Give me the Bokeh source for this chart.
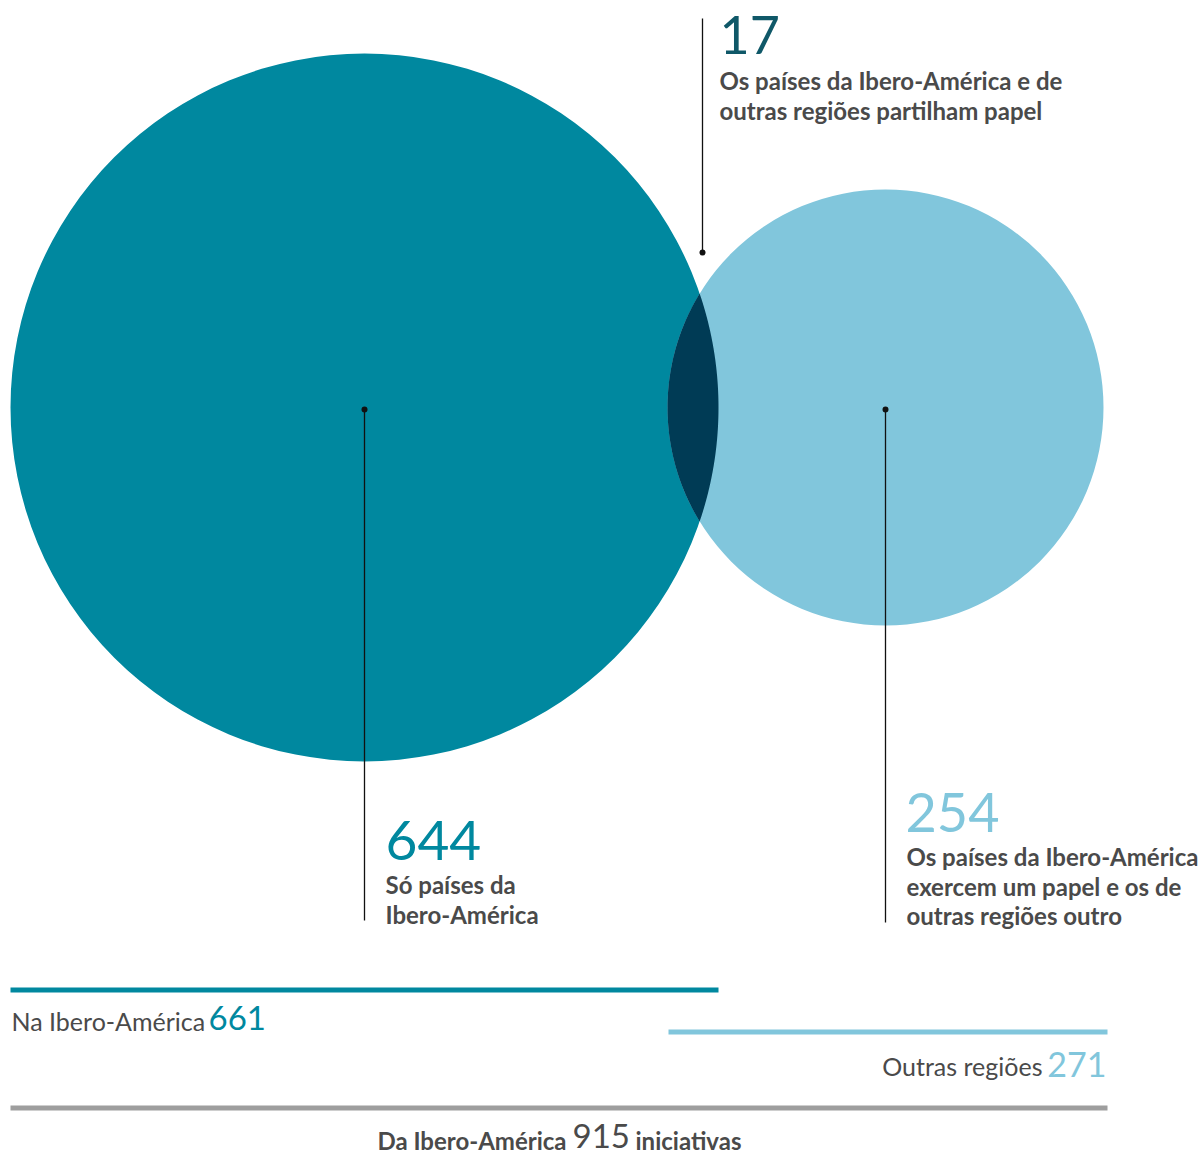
import numpy as np
from bokeh.plotting import figure
from bokeh.models import Range1d
from bokeh.core.properties import value
from bokeh.embed import file_html
from bokeh.resources import INLINE

# ---- data ----
only_ibero = 644
shared = 17
split_roles = 254
total_ibero = 661
total_other = 271
total_all = 915

label_shared = ["Os países da Ibero-América e de", "outras regiões partilham papel"]
label_only = ["Só países da", "Ibero-América"]
label_split = ["Os países da Ibero-América", "exercem um papel e os de", "outras regiões outro"]
bar_labels = ["Na Ibero-América", "Outras regiões", "Da Ibero-América", "iniciativas"]

# ---- colours / fonts ----
TEAL = "#00889f"
LIGHT = "#81c6dc"
DARK = "#003b55"
DARKTEAL = "#0f5868"
GREY_TXT = "#4a4a4a"
BAR_GREY = "#9e9e9e"
FONT = value("Lato")

W, H = 1203, 1155
p = figure(width=W, height=H, x_range=Range1d(0, W), y_range=Range1d(H, 0),
           output_backend="svg", toolbar_location=None, min_border=0,
           x_axis_location=None, y_axis_location=None)
p.grid.visible = False
p.outline_line_color = None
p.background_fill_color = "white"
p.border_fill_color = "white"

# ---- circles ----
cA, rA = (364.0, 407.0), 354.0
cB, rB = (885.0, 407.0), 218.0
p.circle(x=[cA[0]], y=[cA[1]], radius=rA, fill_color=TEAL, line_color=None)
p.circle(x=[cB[0]], y=[cB[1]], radius=rB, fill_color=LIGHT, line_color=None)

# lens (overlap)
d = cB[0] - cA[0]
a = (d**2 + rA**2 - rB**2) / (2 * d)
h = np.sqrt(rA**2 - a**2)
thA = np.arctan2(h, a)
thB = np.arctan2(h, d - a)
tA = np.linspace(-thA, thA, 120)
tB = np.linspace(np.pi - thB, np.pi + thB, 120)
xs = np.concatenate([cA[0] + rA * np.cos(tA), cB[0] + rB * np.cos(tB[::-1])])
ys = np.concatenate([cA[1] + rA * np.sin(tA), cB[1] + rB * np.sin(tB[::-1])])
p.patch(x=list(xs), y=list(ys), fill_color=DARK, line_color=None)

# ---- leader lines ----
p.segment(x0=[702, 364, 885], y0=[18, 409, 409], x1=[702, 364, 885], y1=[252, 920, 922],
          line_color="#111111", line_width=1.3)
p.scatter(x=[702, 364, 885], y=[252, 409, 409], size=6, fill_color="#111111", line_color=None)


def txt(x, y, s, size, color, bold=False, align="left"):
    # y is the visual baseline; compensate renderer's baseline offset
    off = 0.37 * size
    p.text(x=[x], y=[y - off], text=[s], text_font=FONT, text_font_size=f"{size}px",
           text_font_style="bold" if bold else "normal", text_color=color,
           text_baseline="alphabetic", text_align=align)


# ---- big numbers ----
txt(719, 54, str(shared), 52, DARKTEAL)
txt(385, 860, str(only_ibero), 55, TEAL)
txt(905, 832, str(split_roles), 54, LIGHT)

# ---- labels ----
def label(x, y0, lines, step=30):
    for i, s in enumerate(lines):
        txt(x, y0 + i * step, s, 24, GREY_TXT, bold=True)

label(719, 89, label_shared, 29.5)
label(385, 893, label_only, 30)
label(906, 865, label_split, 29.5)

# ---- bars ----
p.quad(left=[10], right=[718], top=[987], bottom=[992], fill_color=TEAL, line_color=None)
p.quad(left=[668], right=[1107], top=[1029], bottom=[1034], fill_color=LIGHT, line_color=None)
p.quad(left=[10], right=[1107], top=[1105], bottom=[1110], fill_color=BAR_GREY, line_color=None)

# bar texts
txt(11, 1030, bar_labels[0], 25, GREY_TXT)
txt(208, 1030, str(total_ibero), 33, TEAL)

txt(1042, 1075, bar_labels[1], 25, GREY_TXT, align="right")
txt(1106, 1077, str(total_other), 34, LIGHT, align="right")

txt(566, 1149, bar_labels[2], 24, GREY_TXT, bold=True, align="right")
txt(572, 1148, str(total_all), 33, GREY_TXT)
txt(635, 1149, bar_labels[3], 24, GREY_TXT, bold=True)

open("out.html", "w").write(file_html(p, INLINE))
